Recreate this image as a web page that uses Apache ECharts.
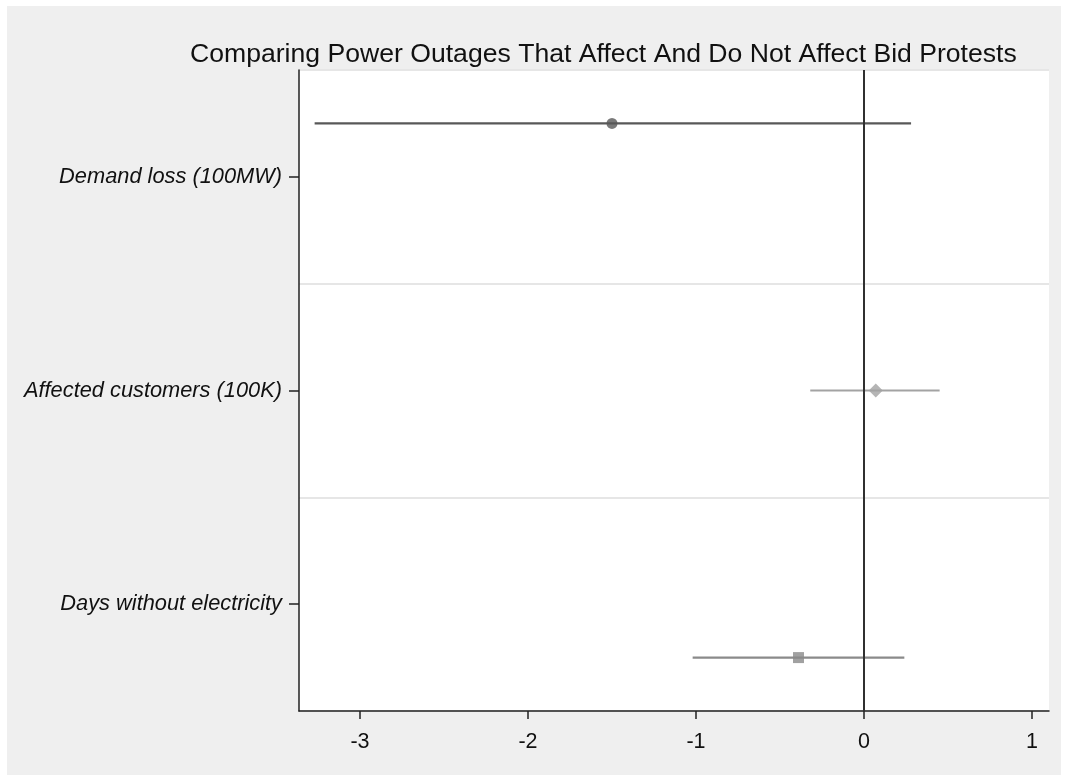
<!DOCTYPE html>
<html>
<head>
<meta charset="utf-8">
<script src="https://cdn.jsdelivr.net/npm/echarts@6/dist/echarts.min.js"></script>
<style>
  html, body { margin: 0; padding: 0; background: #ffffff; }
  #chart { width: 1068px; height: 781px; }
</style>
</head>
<body>
<div id="chart"></div>
<script>
// Coefficient estimates with confidence intervals, one model per row
const categories = ['Days without electricity', 'Affected customers (100K)', 'Demand loss (100MW)'];
const estimates = [-0.39, 0.07, -1.50];   // per category, bottom to top
const lowerCI   = [-1.02, -0.32, -3.27];
const upperCI   = [0.24, 0.45, 0.28];
const xTicks    = [-3, -2, -1, 0, 1];
const titleText = 'Comparing Power Outages That Affect And Do Not Affect Bid Protests';

// Marker style for each model (row index -> style); each model sits at its own offset within its band
const models = [
  { symbol: 'rect',    size: 11, color: '#8a8a8a', offset: -0.25 },
  { symbol: 'diamond', size: 14, color: '#a3a3a3', offset: 0 },
  { symbol: 'circle',  size: 11, color: '#585858', offset: 0.25 }
];

const FONT = 'Liberation Sans, Arial, sans-serif';
const chart = echarts.init(document.getElementById('chart'), null, { renderer: 'canvas' });

const series = [];
categories.forEach((cat, i) => {
  const m = models[i];
  const yPos = i + 0.5 + m.offset;
  series.push({
    name: cat + ' CI',
    type: 'line',
    xAxisIndex: 0,
    yAxisIndex: 1,
    data: [[lowerCI[i], yPos], [upperCI[i], yPos]],
    symbol: 'none',
    lineStyle: { color: m.color, width: 2.2 },
    silent: true,
    z: 3
  });
  series.push({
    name: cat,
    type: 'scatter',
    xAxisIndex: 0,
    yAxisIndex: 1,
    data: [[estimates[i], yPos]],
    symbol: m.symbol,
    symbolSize: m.size,
    itemStyle: { color: m.color },
    z: 4
  });
});

// Reference line at zero
series.push({
  type: 'line',
  xAxisIndex: 0,
  yAxisIndex: 1,
  data: [],
  markLine: {
    silent: true,
    symbol: 'none',
    label: { show: false },
    lineStyle: { color: '#303030', width: 2, type: 'solid' },
    data: [{ xAxis: 0 }]
  },
  z: 2
});

chart.setOption({
  animation: false,
  backgroundColor: '#ffffff',
  graphic: [{
    type: 'rect',
    shape: { x: 7, y: 6, width: 1054, height: 769 },
    style: { fill: '#efefef' },
    z: -10,
    silent: true
  }],
  title: {
    text: titleText,
    left: 185,
    top: 36,
    textStyle: {
      fontFamily: FONT,
      fontWeight: 'normal',
      fontSize: 26.6,
      color: '#111111'
    }
  },
  grid: {
    left: 299,
    right: 19,
    top: 70,
    bottom: 70,
    show: true,
    backgroundColor: '#ffffff',
    borderWidth: 0
  },
  xAxis: {
    type: 'value',
    min: -3.363,
    max: 1.101,
    axisLine: { show: true, onZero: false, lineStyle: { color: '#222222', width: 1.5 } },
    axisTick: { show: true, length: 8, customValues: xTicks, lineStyle: { color: '#222222', width: 1.5 } },
    axisLabel: {
      customValues: xTicks,
      margin: 20,
      fontFamily: FONT,
      fontSize: 21.5,
      color: '#111111'
    },
    splitLine: { show: false }
  },
  yAxis: [
    {
      type: 'category',
      data: categories,
      boundaryGap: true,
      axisLine: { show: true, onZero: false, lineStyle: { color: '#222222', width: 1.5 } },
      axisTick: { show: true, alignWithLabel: true, length: 10, lineStyle: { color: '#222222', width: 1.5 } },
      axisLabel: {
        margin: 17,
        fontFamily: FONT,
        fontStyle: 'italic',
        fontSize: 21.8,
        color: '#111111'
      },
      splitLine: { show: true, lineStyle: { color: '#e6e6e6', width: 2 } }
    },
    {
      type: 'value',
      min: 0,
      max: 3,
      show: false,
      splitLine: { show: false }
    }
  ],
  series: series
});
</script>
</body>
</html>
